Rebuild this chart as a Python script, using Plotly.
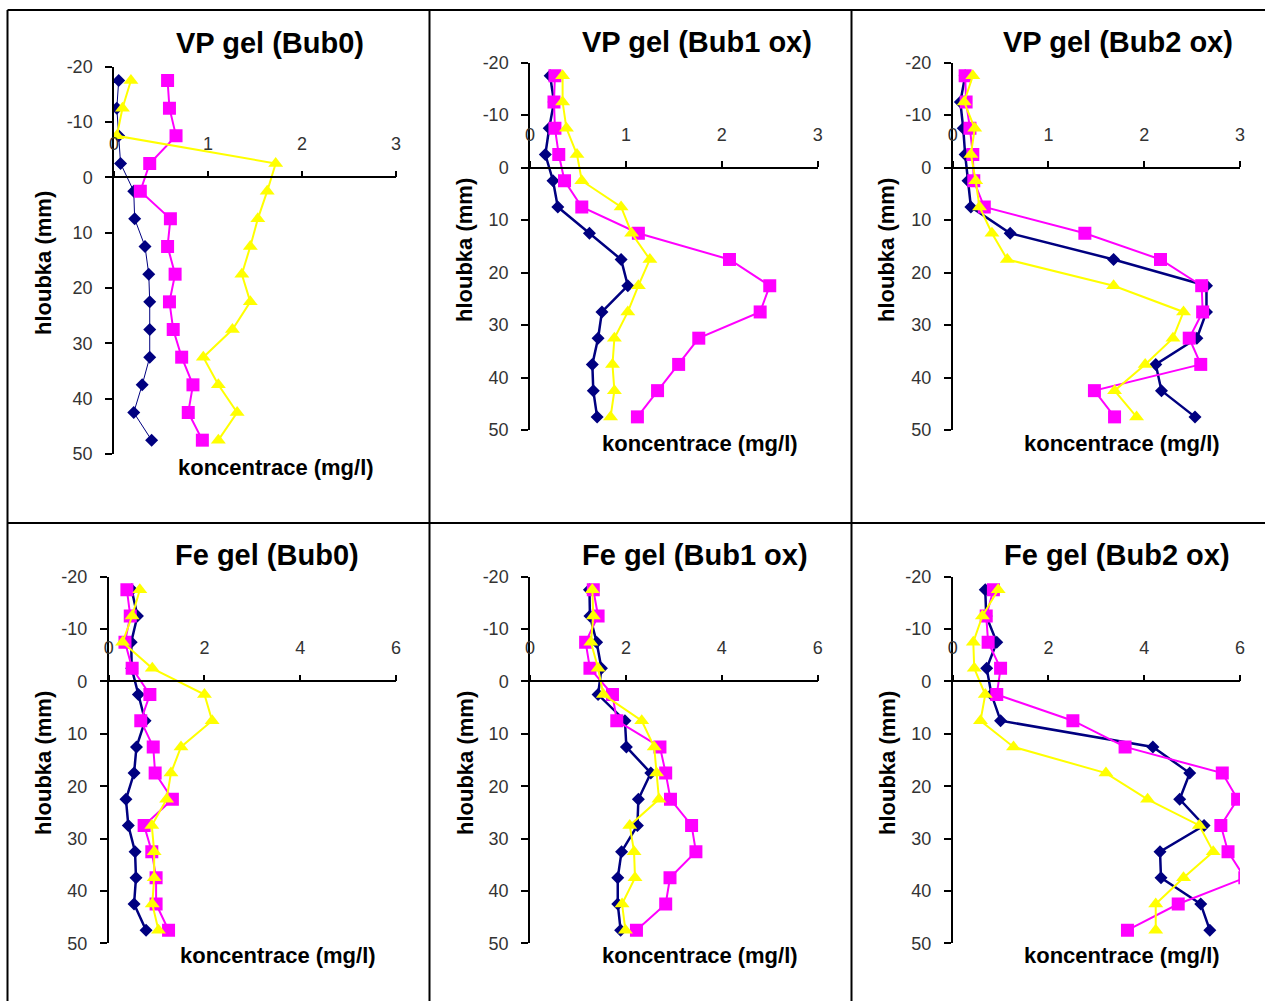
import plotly.graph_objects as go

W, H = 1265, 1001

# depth (mm) of each sample
depth = [-17.5, -12.5, -7.5, -2.5, 2.5, 7.5, 12.5, 17.5, 22.5, 27.5, 32.5, 37.5, 42.5, 47.5]

# VP gel (Bub0)
vp0_navy = [0.05, 0.03, 0.05, 0.07, 0.21, 0.22, 0.33, 0.37, 0.38, 0.38, 0.38, 0.30, 0.21, 0.40]
vp0_mag = [0.57, 0.59, 0.66, 0.38, 0.28, 0.60, 0.57, 0.65, 0.59, 0.63, 0.72, 0.84, 0.79, 0.94]
vp0_yel = [0.18, 0.09, 0.03, 1.72, 1.63, 1.53, 1.45, 1.36, 1.45, 1.26, 0.95, 1.11, 1.31, 1.11]

# VP gel (Bub1 ox)
vp1_navy = [0.21, 0.25, 0.20, 0.16, 0.24, 0.29, 0.62, 0.95, 1.02, 0.75, 0.71, 0.65, 0.66, 0.70]
vp1_mag = [0.26, 0.25, 0.26, 0.30, 0.36, 0.54, 1.13, 2.08, 2.50, 2.40, 1.76, 1.55, 1.33, 1.12]
vp1_yel = [0.34, 0.34, 0.38, 0.49, 0.54, 0.95, 1.06, 1.25, 1.13, 1.02, 0.88, 0.86, 0.88, 0.84]

# VP gel (Bub2 ox)
vp2_navy = [0.13, 0.08, 0.11, 0.13, 0.16, 0.19, 0.60, 1.68, 2.65, 2.65, 2.55, 2.12, 2.18, 2.53]
vp2_mag = [0.13, 0.14, 0.18, 0.21, 0.22, 0.33, 1.38, 2.17, 2.60, 2.61, 2.47, 2.59, 1.48, 1.69]
vp2_yel = [0.21, 0.12, 0.23, 0.19, 0.24, 0.28, 0.41, 0.57, 1.68, 2.41, 2.30, 2.01, 1.69, 1.92]

# Fe gel (Bub0)
fe0_navy = [0.48, 0.60, 0.47, 0.48, 0.62, 0.76, 0.58, 0.53, 0.36, 0.41, 0.55, 0.57, 0.53, 0.78]
fe0_mag = [0.38, 0.45, 0.34, 0.49, 0.86, 0.67, 0.93, 0.97, 1.33, 0.74, 0.90, 0.99, 0.99, 1.25]
fe0_yel = [0.65, 0.49, 0.29, 0.91, 2.00, 2.16, 1.51, 1.30, 1.21, 0.90, 0.95, 0.95, 0.91, 1.04]

# Fe gel (Bub1 ox)
fe1_navy = [1.24, 1.25, 1.39, 1.49, 1.42, 1.98, 2.01, 2.52, 2.26, 2.24, 1.91, 1.83, 1.83, 1.89]
fe1_mag = [1.32, 1.42, 1.16, 1.25, 1.72, 1.81, 2.71, 2.83, 2.93, 3.37, 3.46, 2.92, 2.83, 2.22]
fe1_yel = [1.30, 1.32, 1.27, 1.42, 1.53, 2.33, 2.59, 2.64, 2.69, 2.08, 2.17, 2.19, 1.92, 1.99]

# Fe gel (Bub2 ox)
fe2_navy = [0.68, 0.70, 0.92, 0.71, 0.81, 1.00, 4.18, 4.95, 4.74, 5.25, 4.33, 4.35, 5.18, 5.37]
fe2_mag = [0.85, 0.70, 0.74, 1.00, 0.92, 2.51, 3.60, 5.63, 5.95, 5.60, 5.75, 6.10, 4.71, 3.65]
fe2_yel = [0.95, 0.62, 0.43, 0.45, 0.68, 0.58, 1.27, 3.20, 4.07, 5.15, 5.44, 4.82, 4.24, 4.24]

titles = ["VP gel (Bub0)", "VP gel (Bub1 ox)", "VP gel (Bub2 ox)",
          "Fe gel (Bub0)", "Fe gel (Bub1 ox)", "Fe gel (Bub2 ox)"]
series = [(vp0_navy, vp0_mag, vp0_yel), (vp1_navy, vp1_mag, vp1_yel), (vp2_navy, vp2_mag, vp2_yel),
          (fe0_navy, fe0_mag, fe0_yel), (fe1_navy, fe1_mag, fe1_yel), (fe2_navy, fe2_mag, fe2_yel)]
x_max = [3, 3, 3, 6, 6, 6]
x_dtick = [1, 1, 1, 2, 2, 2]
y_ticks = [-20, -10, 0, 10, 20, 30, 40, 50]
y_tick_labels = ["-20", "-10", "0", "10", "20", "30", "40", "50"]
x_title = "koncentrace (mg/l)"
y_title = "hloubka (mm)"

# pixel boxes of plot areas: (x0, x1, ytop, ybottom)
boxes = [(114, 396, 66.7, 454), (530, 817.7, 62.7, 430), (952.7, 1240, 62.7, 430),
         (108.7, 396, 576.7, 943.3), (530, 817.7, 576.7, 943.3), (952.7, 1240, 576.7, 943.3)]
title_pos = [(270, 43), (697, 42), (1118, 42), (267, 555), (695, 555), (1117, 555)]
ytitle_pos = [(43, 263), (465, 250), (887, 250), (43, 763), (465, 763), (887, 763)]
xtitle_pos = [(276, 468), (700, 443), (1122, 443), (278, 955), (700, 955), (1122, 955)]
navy_width = [1, 2.5, 2.5, 2.5, 2.5, 2.5]


def px(x):
    return x / W


def py(y):
    return 1 - y / H


FONT = "Liberation Sans, Arial, sans-serif"
colors = ["#000080", "#FF00FF", "#FFFF00"]
symbols = ["diamond", "square", "triangle-up"]
sizes = [10, 13, 13]

fig = go.Figure()
layout = dict(width=W, height=H, margin=dict(l=0, r=0, t=0, b=0, autoexpand=False),
              paper_bgcolor="white", plot_bgcolor="rgba(0,0,0,0)", showlegend=False,
              annotations=[], shapes=[])

for i in range(6):
    k = "" if i == 0 else str(i + 1)
    x0, x1, yt, yb = boxes[i]
    for j in range(3):
        fig.add_trace(go.Scatter(
            x=series[i][j], y=depth, mode="lines+markers",
            xaxis="x" + k, yaxis="y" + k,
            line=dict(color=colors[j], width=navy_width[i] if j == 0 else 2),
            marker=dict(symbol=symbols[j], size=sizes[j], color=colors[j]),
            name=["série 1", "série 2", "série 3"][j]))
    y0pix = yt + 20 / 70 * (yb - yt)
    layout["xaxis" + k] = dict(
        domain=[px(x0), px(x1)], range=[0, x_max[i]], anchor="free", position=py(y0pix),
        side="top", showline=True, linecolor="black", linewidth=1.5, automargin=False,
        ticks="outside", ticklen=6, tickcolor="black", tickwidth=1.5,
        tick0=0, dtick=x_dtick[i], showgrid=False, zeroline=False,
        ticklabelstandoff=13,
        tickfont=dict(family=FONT, size=18, color="#333333"))
    layout["yaxis" + k] = dict(
        domain=[py(yb), py(yt)], range=[50, -20], anchor="x" + k,
        showline=True, linecolor="black", linewidth=1.5, automargin=False,
        ticks="outside", ticklen=7, tickcolor="black", tickwidth=1.5,
        tickvals=y_ticks, ticktext=y_tick_labels, showgrid=False, zeroline=False,
        ticklabelstandoff=9,
        tickfont=dict(family=FONT, size=18, color="#333333"))
    tx, ty = title_pos[i]
    layout["annotations"].append(dict(
        text="<b>" + titles[i] + "</b>", x=px(tx), y=py(ty), xref="paper", yref="paper",
        xanchor="center", yanchor="middle", showarrow=False,
        font=dict(family=FONT, size=29, color="black")))
    ax_, ay_ = ytitle_pos[i]
    layout["annotations"].append(dict(
        text="<b>" + y_title + "</b>", x=px(ax_), y=py(ay_), xref="paper", yref="paper",
        xanchor="center", yanchor="middle", showarrow=False, textangle=-90,
        font=dict(family=FONT, size=22, color="black")))
    bx, by = xtitle_pos[i]
    layout["annotations"].append(dict(
        text="<b>" + x_title + "</b>", x=px(bx), y=py(by), xref="paper", yref="paper",
        xanchor="center", yanchor="middle", showarrow=False,
        font=dict(family=FONT, size=22, color="black")))

# table borders
border = dict(color="black", width=2)
for (xa, ya, xb, yb2) in [(7.5, 10, 1265, 10), (7.5, 523, 1265, 523),
                          (7.5, 10, 7.5, 1001), (429.5, 10, 429.5, 1001), (851.5, 10, 851.5, 1001)]:
    layout["shapes"].append(dict(type="line", xref="paper", yref="paper",
                                 x0=px(xa), y0=py(ya), x1=px(xb), y1=py(yb2), line=border))

fig.update_layout(**layout)
fig.write_html("out.html")
